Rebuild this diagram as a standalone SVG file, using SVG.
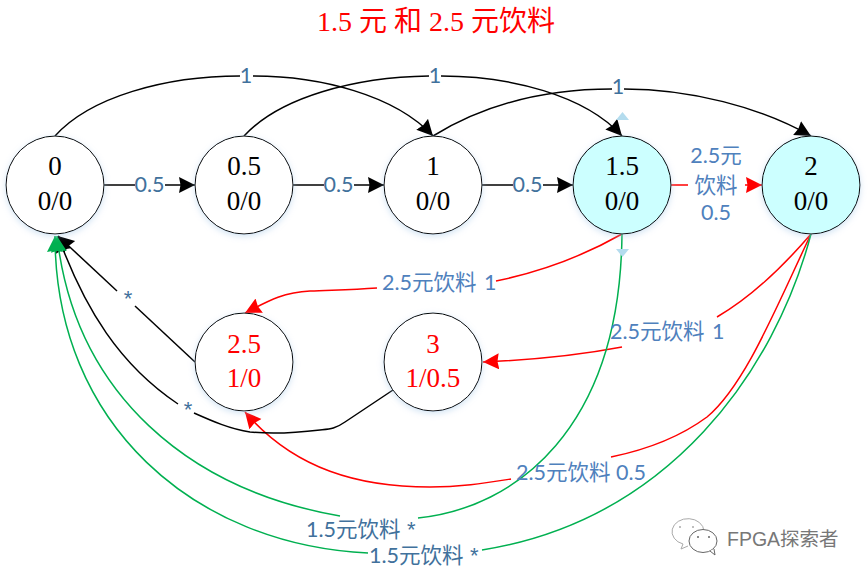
<svg xmlns="http://www.w3.org/2000/svg" width="868" height="575" viewBox="0 0 868 575">
<style>
text{font-family:"Liberation Serif","Noto Sans CJK SC",serif}
.n{fill:#fff;stroke:#000;stroke-width:1;filter:url(#sh)}
.c{fill:#ccffff}
.t{font-size:27px;text-anchor:middle;fill:#000}
.r{fill:#f00}
.l{font-family:Lato,"Noto Sans CJK SC",sans-serif;font-size:21.5px;fill:#4f81bd}
.d{fill:#41719c}
.m{text-anchor:middle}
.s{font-family:"Liberation Sans",sans-serif;font-size:22px}
.k,.e,.g{fill:none;stroke-width:1.5}
.k{stroke:#000}.e{stroke:#f00}.g{stroke:#00b050}
.ka{marker-end:url(#ak)}.ea{marker-end:url(#ar)}.ga{marker-end:url(#ag)}
</style>
<defs>
<filter id="sh" x="-20%" y="-20%" width="140%" height="140%"><feDropShadow dx="0" dy="2" stdDeviation="3" flood-color="#9dc3e6" flood-opacity=".45"/></filter>
<marker id="ak" markerUnits="userSpaceOnUse" markerWidth="18" markerHeight="18" refX="16" refY="8" orient="auto"><path d="M0,0L16,8L0,16L1.500,8z" fill="#000"/></marker>
<marker id="ar" markerUnits="userSpaceOnUse" markerWidth="18" markerHeight="18" refX="16" refY="8" orient="auto"><path d="M0,0L16,8L0,16L1.500,8z" fill="#f00"/></marker>
<marker id="ag" markerUnits="userSpaceOnUse" markerWidth="18" markerHeight="18" refX="16" refY="8" orient="auto"><path d="M0,0L16,8L0,16L1.500,8z" fill="#00b050"/></marker>
</defs>
<rect width="868" height="575" fill="#fff"/>
<text x="436" y="31" font-size="28" fill="#f00" text-anchor="middle">1.5 元 和 2.5 元饮料</text>
<g id="connectors">
<path class="k" d="M55,136C90,97 165,76 240,76"/><path class="k ka" d="M253,76C320,76 395,95 433,136"/>
<path class="k" d="M244,136C280,97 355,77 429,76"/><path class="k ka" d="M441,76C510,76 585,95 622,136"/>
<path class="k" d="M433,136C480,107 540,89 612,89"/><path class="k ka" d="M624,89C690,89 760,107 811,136"/>
<path class="k" d="M104,185H135"/><path class="k ka" d="M165,185H195"/>
<path class="k" d="M293,185H324"/><path class="k ka" d="M354,185H384"/>
<path class="k" d="M482,185H513"/><path class="k ka" d="M543,185H573"/>
<path class="e" d="M671,185H688"/><path class="e ea" d="M745,185H762"/>
<path class="e" d="M622,234C585,255 540,272 496,281"/><path class="e ea" d="M377,288C350,290 330,290 310,291C285,292 270,300 245,313"/>
<path class="e" d="M811,234C780,270 750,298 717,317"/><path class="e ea" d="M622,347C580,355 530,360 483,362"/>
<path class="e" d="M811,234C775,310 745,385 707,417C680,437 645,450 611,457"/><path class="e ea" d="M511,479C485,483 460,487 430,487C360,487 295,470 245,412"/>
<path class="k ka" d="M117,291L58,236"/><path class="k" d="M195,362L135,306"/>
<path class="k" d="M393,390L345,422C335,429 330,429 320,430C295,433 270,434 250,432C230,429 212,421 194,413"/>
<path class="k ka" d="M178,404C120,365 85,310 58,236"/>
<path class="g" d="M622,234C620,430 515,508 418,518"/>
<path class="g" d="M811,234C775,370 670,520 482,550"/>
<path class="g ga" d="M340,516C190,490 75,395 57,236"/>
<path class="g ga" d="M368,553C195,545 55,425 55,236"/>
</g>
<path d="M616,120L622.500,112L629,120z" fill="#b4dcee"/>
<path d="M616,249L622.500,257L629,249z" fill="#b4dcee"/>
<g id="labels">
<text class="l d m" x="246" y="83">1</text>
<text class="l d m" x="435" y="83">1</text>
<text class="l d m" x="618" y="94">1</text>
<text class="l d m" x="149.500" y="192">0.5</text>
<text class="l d m" x="338.500" y="192">0.5</text>
<text class="l d m" x="527.500" y="192">0.5</text>
<text class="l m" x="716" y="163">2.5元</text>
<text class="l m" x="716" y="193">饮料</text>
<text class="l m" x="716" y="220">0.5</text>
<text class="l" x="382" y="290">2.5元饮料<tspan dx="2"> 1</tspan></text>
<text class="l" x="610" y="339">2.5元饮料<tspan dx="2"> 1</tspan></text>
<text class="l" x="516" y="480">2.5元饮料 0.5</text>
<text class="l d" x="306" y="537">1.5元饮料 <tspan class="s" dx="1">*</tspan></text>
<text class="l d" x="369" y="563">1.5元饮料 <tspan class="s" dx="1">*</tspan></text>
<text class="l d m s" x="128" y="306">*</text>
<text class="l d m s" x="188" y="417">*</text>
</g>
<g id="n0"><circle class="n" cx="55" cy="185" r="49"/><text class="t" x="55" y="175">0</text><text class="t" x="55" y="210">0/0</text></g>
<g id="n05"><circle class="n" cx="244" cy="185" r="49"/><text class="t" x="244" y="175">0.5</text><text class="t" x="244" y="210">0/0</text></g>
<g id="n1"><circle class="n" cx="433" cy="185" r="49"/><text class="t" x="433" y="175">1</text><text class="t" x="433" y="210">0/0</text></g>
<g id="n15"><circle class="n c" cx="622" cy="185" r="49"/><text class="t" x="622" y="175">1.5</text><text class="t" x="622" y="210">0/0</text></g>
<g id="n2"><circle class="n c" cx="811" cy="185" r="49"/><text class="t" x="811" y="175">2</text><text class="t" x="811" y="210">0/0</text></g>
<g id="n25"><circle class="n" cx="244" cy="362" r="49"/><text class="t r" x="244" y="353">2.5</text><text class="t r" x="244" y="387">1/0</text></g>
<g id="n3"><circle class="n" cx="433" cy="362" r="49"/><text class="t r" x="433" y="353">3</text><text class="t r" x="433" y="387">1/0.5</text></g>
<g id="watermark">
<path d="M704,531a16,13 0 1 0 -21,13l-2,5l7,-3" fill="none" stroke="#aaa" stroke-width="1"/>
<ellipse cx="703" cy="541" rx="14" ry="11.500" fill="#fff" stroke="#666" stroke-width="1"/>
<path d="M710,551l5,4l-1,-6" fill="#fff" stroke="#666" stroke-width="1"/>
<circle cx="698" cy="537" r="1" fill="#666"/><circle cx="709" cy="537" r="1" fill="#666"/>
<circle cx="693" cy="527" r="1" fill="#aaa"/><circle cx="680" cy="527" r="1" fill="#aaa"/>
<text x="727" y="546" font-size="19.500" fill="#777" style="font-family:'Liberation Sans','Noto Sans CJK SC',sans-serif">FPGA探索者</text>
</g>
</svg>
